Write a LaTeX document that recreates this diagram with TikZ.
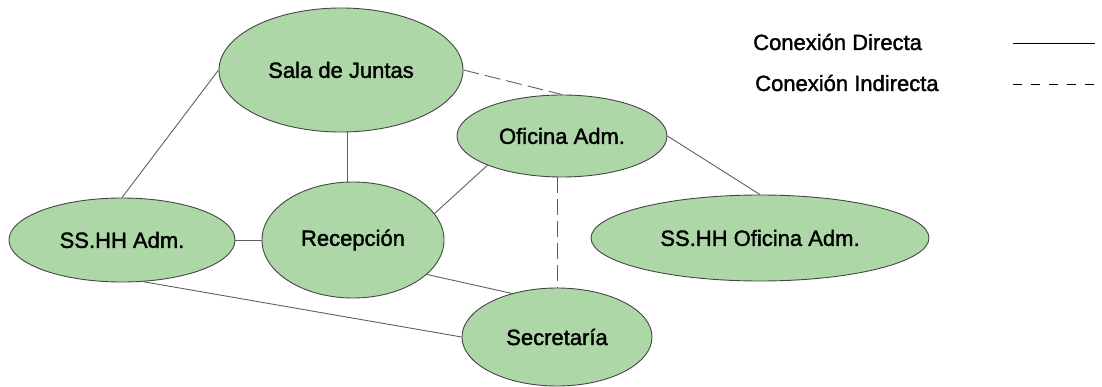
\documentclass[tikz,border=0pt]{standalone}
\usepackage{fontspec}
\setmainfont{Liberation Sans}
\newfontfamily\heavyfont{Liberation Sans}[FakeBold=1.6]
\usetikzlibrary{shapes.geometric,calc}
\definecolor{nodefill}{RGB}{173,215,167}
\definecolor{nodeline}{RGB}{70,70,70}
\definecolor{conn}{RGB}{95,95,95}
\tikzset{
  room/.style={ellipse, draw=nodeline, fill=nodefill, line width=0.9pt, inner sep=0pt, font=\heavyfont\fontsize{22}{26}\selectfont},
  direct/.style={draw=conn, line width=0.9pt},
  indirect/.style={draw=conn, line width=0.9pt, dash pattern=on 16pt off 6pt},
  legtext/.style={anchor=west, inner sep=0pt, font=\heavyfont\fontsize{22}{26}\selectfont}
}
\newcommand{\roomtext}[1]{\makebox[0pt][c]{#1}}
\begin{document}
\begin{tikzpicture}[x=1pt,y=-1pt]
\useasboundingbox (0,0) rectangle (1102,387);
% nodes
\node[room, minimum width=244pt, minimum height=124pt] (sala) at (341,70) {\roomtext{Sala de Juntas}};
\node[room, minimum width=210pt, minimum height=82pt] (ofi) at (562,136) {\roomtext{Oficina Adm.}};
\node[room, minimum width=226pt, minimum height=84pt] (ssa) at (122,240) {\roomtext{SS.HH Adm.}};
\node[room, minimum width=182pt, minimum height=116pt] (rec) at (353,240) {\roomtext{Recepción}};
\node[room, minimum width=338pt, minimum height=86pt] (sso) at (760,238) {\roomtext{SS.HH Oficina Adm.}};
\node[room, minimum width=190pt, minimum height=98pt] (sec) at (557,337) {\roomtext{Secretaría}};
% connectors
\coordinate (mid) at ($(sala.south)!.5!(rec.north)$);
\draw[direct] (sala.west) -- (ssa.north);
\draw[direct] (mid |- sala.south) -- (mid |- rec.north);
\draw[indirect] (sala.east) -- (ofi.north);
\draw[direct] (ofi.south west) -- (rec.18);
\draw[direct] (ofi.east) -- (sso.north);
\draw[indirect] (ofi.south -| sec.north) -- (sec.north);
\draw[direct] (ssa.east) -- (rec.west);
\draw[direct] (rec.-25) -- (sec.136);
\draw[direct] (ssa.-63) -- (sec.west);
% legend
\node[legtext] (ld) at (753,42) {Conexión Directa};
\node[legtext] (li) at (755,83) {Conexión Indirecta};
\coordinate (ld1) at (1013,43);
\coordinate (ld2) at (1095,43);
\coordinate (li1) at (1013,84);
\coordinate (li2) at (1095,84);
\draw[line width=0.8pt, black] (ld1) -- (ld2);
\draw[line width=0.8pt, black, dash pattern=on 9pt off 9pt] (li1) -- (li2);
\end{tikzpicture}
\end{document}
